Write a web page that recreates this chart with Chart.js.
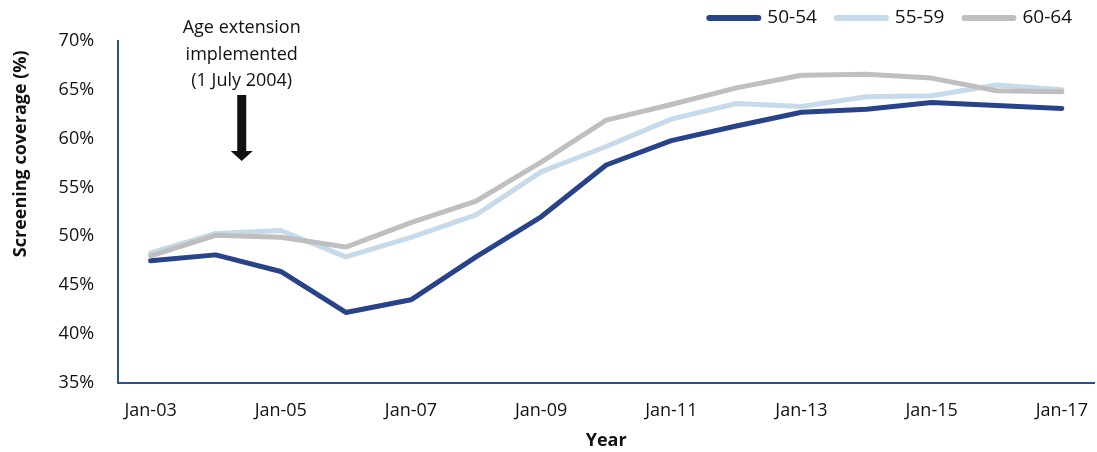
<!DOCTYPE html>
<html>
<head>
<meta charset="utf-8">
<script src="https://cdn.jsdelivr.net/npm/chart.js@4.4.1/dist/chart.umd.min.js"></script>
<style>
  html, body { margin: 0; padding: 0; background: #fff; }
  #wrap { width: 1097px; height: 452px; }
</style>
</head>
<body>
<div id="wrap"><canvas id="chart"></canvas></div>
<script>
// years, one point per January
const categories = ["Jan-03", "Jan-04", "Jan-05", "Jan-06", "Jan-07", "Jan-08", "Jan-09", "Jan-10",
  "Jan-11", "Jan-12", "Jan-13", "Jan-14", "Jan-15", "Jan-16", "Jan-17"];

const age5054 = [47.5, 48.1, 46.4, 42.2, 43.5, 47.9, 52.0, 57.3, 59.8, 61.3, 62.7, 63.0, 63.7, 63.4, 63.1];
const age5559 = [48.3, 50.3, 50.6, 47.9, 49.9, 52.2, 56.6, 59.2, 62.0, 63.6, 63.3, 64.3, 64.4, 65.5, 65.0];
const age6064 = [48.0, 50.1, 49.9, 48.9, 51.4, 53.6, 57.6, 61.9, 63.5, 65.2, 66.5, 66.6, 66.2, 64.9, 64.8];

const yTicks = [35, 40, 45, 50, 55, 60, 65, 70];

const annotationLines = ["Age extension", "implemented", "(1 July 2004)"];
const annotationIndex = 1.4; // about mid 2004 on the category axis

const FONT = "'Open Sans', 'Noto Sans', sans-serif";
const axisColor = "#2F4B9A";

// arrow + text above the 2004 point
const arrowNote = {
  id: "arrowNote",
  afterDatasetsDraw(chart) {
    const { ctx, chartArea, scales } = chart;
    const x = scales.x.getPixelForValue(annotationIndex);
    const top = chartArea.top;
    ctx.save();
    ctx.fillStyle = "#111";
    ctx.font = "18px " + FONT;
    ctx.textAlign = "center";
    ctx.textBaseline = "middle";
    annotationLines.forEach((t, i) => ctx.fillText(t, x, top - 13 + i * 26.5));
    // shaft
    ctx.fillRect(x - 4.5, top + 54, 9, 57);
    // head
    ctx.beginPath();
    ctx.moveTo(x - 11, top + 110);
    ctx.lineTo(x + 11, top + 110);
    ctx.lineTo(x, top + 120);
    ctx.closePath();
    ctx.fill();
    ctx.restore();
  }
};

// legend drawn by hand, top right, with rounded line swatches
const lineLegend = {
  id: "lineLegend",
  afterDraw(chart) {
    const { ctx } = chart;
    const sets = chart.data.datasets;
    const swatch = 55, gap = 6, itemGap = 17, y = 18;
    ctx.save();
    ctx.font = "19px " + FONT;
    ctx.textBaseline = "middle";
    const widths = sets.map((d) => swatch + gap + ctx.measureText(d.label).width);
    let x = chart.width - 25 - widths.reduce((a, b) => a + b, 0) - itemGap * (sets.length - 1);
    sets.forEach((d, i) => {
      ctx.strokeStyle = d.borderColor;
      ctx.lineWidth = 6;
      ctx.lineCap = "round";
      ctx.beginPath();
      ctx.moveTo(x + 3, y);
      ctx.lineTo(x + swatch - 3, y);
      ctx.stroke();
      ctx.fillStyle = "#111";
      ctx.fillText(d.label, x + swatch + gap, y);
      x += widths[i] + itemGap;
    });
    ctx.restore();
  }
};

const ctx = document.getElementById("chart").getContext("2d");
new Chart(ctx, {
  type: "line",
  data: {
    labels: categories,
    datasets: [
      { label: "50-54", data: age5054, borderColor: "#29438A", backgroundColor: "#29438A", order: 3 },
      { label: "55-59", data: age5559, borderColor: "#C6DAE9", backgroundColor: "#C6DAE9", order: 2 },
      { label: "60-64", data: age6064, borderColor: "#BFBFBF", backgroundColor: "#BFBFBF", order: 1 },
    ],
  },
  options: {
    responsive: true,
    maintainAspectRatio: false,
    animation: false,
    layout: { padding: { left: 6, right: 2, top: 41, bottom: 0 } },
    elements: {
      line: { borderWidth: 5, tension: 0, borderCapStyle: "round", borderJoinStyle: "round", fill: false },
      point: { radius: 0, hoverRadius: 0 },
    },
    plugins: {
      tooltip: { enabled: false },
      legend: { display: false },
    },
    scales: {
      x: {
        offset: true,
        grid: { display: false },
        border: { display: true, color: axisColor, width: 2 },
        ticks: {
          autoSkip: false,
          maxRotation: 0,
          padding: 9,
          color: "#111",
          font: { family: FONT, size: 18 },
          callback: (v, i) => (i % 2 === 0 ? categories[i] : ""),
        },
        title: { display: true, text: "Year", color: "#111", font: { family: FONT, size: 18, weight: "bold" }, padding: { top: 0, bottom: 0 } },
      },
      y: {
        min: yTicks[0],
        max: yTicks[yTicks.length - 1],
        afterBuildTicks: (axis) => { axis.ticks = yTicks.map((v) => ({ value: v })); },
        grid: { display: false },
        border: { display: true, color: axisColor, width: 2 },
        ticks: {
          padding: 16,
          color: "#111",
          font: { family: FONT, size: 18 },
          callback: (v) => v + "%",
        },
        title: {
          display: true,
          align: "end",
          text: "Screening coverage (%)  ",
          color: "#111",
          font: { family: FONT, size: 18, weight: "bold" },
          padding: { bottom: 11 },
        },
      },
    },
  },
  plugins: [arrowNote, lineLegend],
});
</script>
</body>
</html>
